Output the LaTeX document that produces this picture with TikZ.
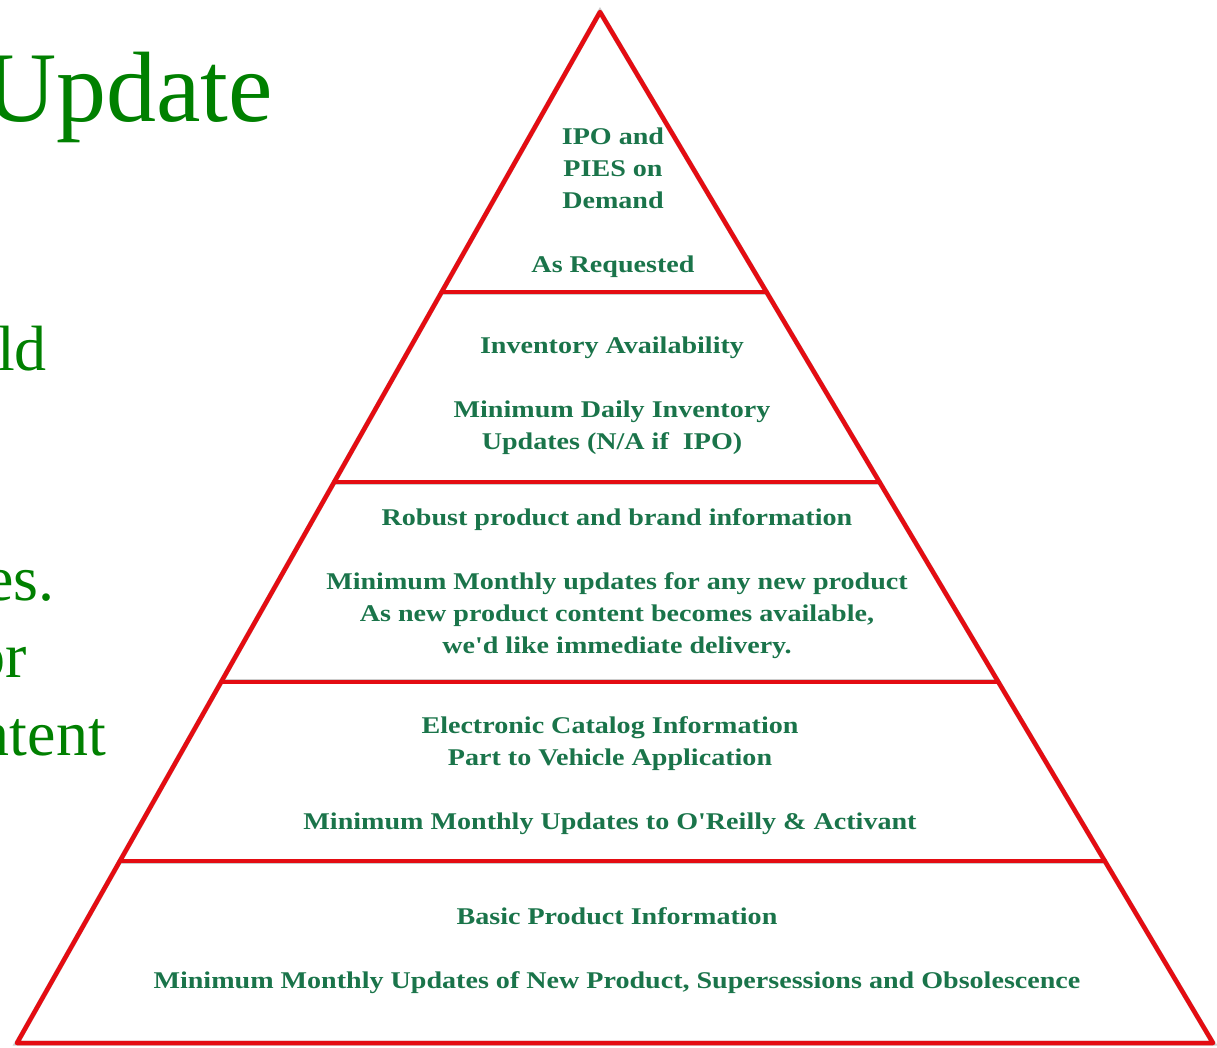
\documentclass[tikz,border=0pt]{standalone}
\usepackage{fontspec}
\setmainfont{Liberation Serif}
\newfontfamily\pyrfont[FakeStretch=1.17, Ligatures=TeXOff]{Liberation Serif}
\usetikzlibrary{calc}

\definecolor{pyrred}{RGB}{228,12,18}
\definecolor{pyrtext}{RGB}{26,116,74}
\definecolor{titlegreen}{RGB}{0,128,0}

\tikzset{
  layer text/.style={text=pyrtext, font=\pyrfont\bfseries\fontsize{24}{32}\selectfont, align=center, inner sep=0pt},
  big text/.style={text=titlegreen, anchor=base east, inner sep=0pt, font=\fontsize{64}{77}\selectfont},
  edge line/.style={draw=pyrred, line width=4.5pt, line join=round, line cap=round},
  edge shadow/.style={draw=gray!80, line width=5pt, opacity=0.5},
}

\begin{document}
\begin{tikzpicture}[x=1pt, y=-1pt]
  \useasboundingbox (0,0) rectangle (1217,1048);

  % corners of the pyramid
  \coordinate (apex) at (600,12);
  \coordinate (bl) at (17,1043);
  \coordinate (br) at (1213,1043);

  % divider ends on both edges
  \foreach \p [count=\i] in {0.2716,0.4559,0.6498,0.8235} {
    \coordinate (l\i) at ($(apex)!\p!(bl)$);
    \coordinate (r\i) at ($(apex)!\p!(br)$);
  }

  % shadow first, then the red outline
  \begin{scope}[shift={(4,6)}]
    \draw[edge shadow] (apex) -- (bl) -- (br) -- cycle;
    \foreach \i in {1,...,4} \draw[edge shadow] (l\i) -- (r\i);
  \end{scope}
  \draw[edge line] (apex) -- (bl) -- (br) -- cycle;
  \foreach \i in {1,...,4} \draw[edge line] (l\i) -- (r\i);

  % layer texts
  \node[layer text] (top) at (613,203) {IPO and\\PIES on\\Demand\\[32pt]As Requested};
  \node[layer text] (stock) at (612,396) {Inventory Availability\\[32pt]Minimum Daily Inventory\\Updates (N/A if~ IPO)};
  \node[layer text] (brand) at (617,584) {Robust product and brand information\\[32pt]Minimum Monthly updates for any new product\\As new product content becomes available,\\we'd like immediate delivery.};
  \node[layer text] (catalog) at (610,776) {Electronic Catalog Information\\Part to Vehicle Application\\[32pt]Minimum Monthly Updates to O'Reilly \& Activant};
  \node[layer text] (basic) at (617,951) {Basic Product Information\\[32pt]Minimum Monthly Updates of New Product, Supersessions and Obsolescence};

  % slide text cut off at the left
  \node[big text, font=\fontsize{100}{120}\selectfont] (title) at (273,122) {Update};
  \node[big text] (w1) at (47,370) {ld};
  \node[big text] (w2) at (55,600) {es.};
  \node[big text] (w3) at (27,677) {or};
  \node[big text] (w4) at (106,755) {ntent};
\end{tikzpicture}
\end{document}
